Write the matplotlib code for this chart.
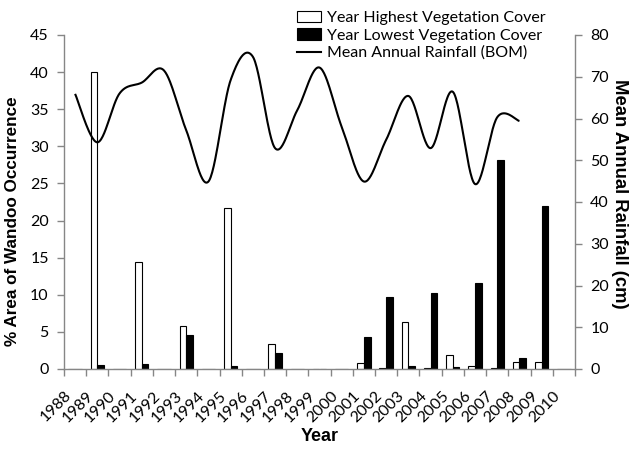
import numpy as np
import matplotlib
matplotlib.use("Agg")
import matplotlib.pyplot as plt
from matplotlib.patches import Patch
from matplotlib.lines import Line2D

# ---------------- data ----------------
years = [str(y) for y in range(1988, 2011)]
# bar values (% area), one per category slot (23 slots)
highest = [0, 40.0, 0, 14.4, 0, 5.8, 0, 21.7, 0, 3.4, 0, 0, 0, 0.8,
           0.1, 6.3, 0.1, 1.9, 0.4, 0.1, 0.9, 0.9, 0]
lowest = [0, 0.55, 0, 0.7, 0, 4.6, 0, 0.35, 0, 2.2, 0, 0, 0, 4.35,
          9.75, 0.4, 10.3, 0.3, 11.6, 28.2, 1.45, 22.0, 0]
# mean annual rainfall (cm), slots 0..20
rain = [65.9, 54.3, 66.0, 68.6, 71.5, 57.2, 44.9, 69.2, 74.8, 52.9, 62.0,
        72.2, 58.0, 44.9, 54.9, 65.4, 52.9, 66.4, 44.3, 60.3, 59.4]

labels_leg = ["Year Highest Vegetation Cover", "Year Lowest Vegetation Cover",
              "Mean Annual Rainfall (BOM)"]


def excel_smooth(x, y, n=30):
    """Bezier smoothing similar to Excel's 'smoothed line'."""
    x = np.asarray(x, float)
    y = np.asarray(y, float)
    px, py = [], []
    N = len(x)
    for i in range(N - 1):
        x0, y0 = x[max(i - 1, 0)], y[max(i - 1, 0)]
        x1, y1 = x[i], y[i]
        x2, y2 = x[i + 1], y[i + 1]
        x3, y3 = x[min(i + 2, N - 1)], y[min(i + 2, N - 1)]
        c1x, c1y = x1 + (x2 - x0) / 6, y1 + (y2 - y0) / 6
        c2x, c2y = x2 - (x3 - x1) / 6, y2 - (y3 - y1) / 6
        t = np.linspace(0, 1, n)
        bx = (1 - t) ** 3 * x1 + 3 * (1 - t) ** 2 * t * c1x + 3 * (1 - t) * t ** 2 * c2x + t ** 3 * x2
        by = (1 - t) ** 3 * y1 + 3 * (1 - t) ** 2 * t * c1y + 3 * (1 - t) * t ** 2 * c2y + t ** 3 * y2
        px.extend(bx)
        py.extend(by)
    return np.array(px), np.array(py)


TICKFONT = "Lato"
TITLEFONT = "Liberation Sans"
GRAY = "#868686"

fig = plt.figure(figsize=(6.32, 4.49), dpi=100)
ax = fig.add_axes([64 / 632, 1 - 369 / 449, 511 / 632, 334 / 449])
ax2 = ax.twinx()

ncat = len(years)
centers = np.arange(ncat) + 0.5
bw = 0.3
ax.bar(centers - bw / 2, highest, width=bw, color="white", edgecolor="black", linewidth=0.8, zorder=2)
ax.bar(centers + bw / 2, lowest, width=bw, color="black", edgecolor="black", linewidth=0.8, zorder=2)

lx, ly = excel_smooth(centers[:len(rain)], rain)
ax2.plot(lx, ly, color="black", lw=1.5, solid_capstyle="butt")

ax.set_xlim(0, ncat)
ax.set_ylim(0, 45)
ax2.set_ylim(0, 80)
ax.set_yticks(np.arange(0, 46, 5))
ax2.set_yticks(np.arange(0, 81, 10))

ax.set_xticks(np.arange(0, ncat + 1))
ax.set_xticklabels(years + [""], fontfamily=TICKFONT, fontsize=11.5,
                   rotation=45, ha="right", rotation_mode="anchor")

for a in (ax, ax2):
    a.spines["top"].set_visible(False)
    for s in ("left", "right", "bottom"):
        a.spines[s].set_color(GRAY)
        a.spines[s].set_linewidth(1.0)
    a.tick_params(direction="out", color=GRAY, length=5, width=1.0)
ax.spines["right"].set_visible(False)
ax2.spines["left"].set_visible(False)
ax2.spines["bottom"].set_visible(False)

ax.tick_params(axis="x", pad=9)
ax.tick_params(axis="y", pad=6, labelsize=11.5)
ax2.tick_params(axis="y", pad=6, labelsize=11.5)
for lab in ax.get_yticklabels() + ax2.get_yticklabels():
    lab.set_fontfamily(TICKFONT)

ax.set_ylabel("% Area of Wandoo Occurrence", fontfamily=TITLEFONT, fontweight="bold", fontsize=12.3)
ax.yaxis.set_label_coords(-0.086, 0.443)
ax2.set_ylabel("Mean Annual Rainfall (cm)", fontfamily=TITLEFONT, fontweight="bold", fontsize=13.3,
               rotation=270, va="center", ha="center")
ax2.yaxis.set_label_coords(1.088, 0.524)
ax.set_xlabel("Year", fontfamily=TITLEFONT, fontweight="bold", fontsize=13)
ax.xaxis.set_label_coords(0.501, -0.178)

handles = [Patch(facecolor="white", edgecolor="black", linewidth=0.8),
           Patch(facecolor="black", edgecolor="black", linewidth=0.8),
           Line2D([0], [0], color="black", lw=1.5)]
fig.legend(handles, labels_leg, loc="upper left", bbox_to_anchor=(297 / 632, 1 - 11 / 449),
           frameon=False, borderpad=0, borderaxespad=0, handlelength=1.5, handleheight=0.7,
           handletextpad=0.35, labelspacing=0.2, prop={"family": TICKFONT, "size": 11.5})

fig.savefig("out.png", dpi=100)
